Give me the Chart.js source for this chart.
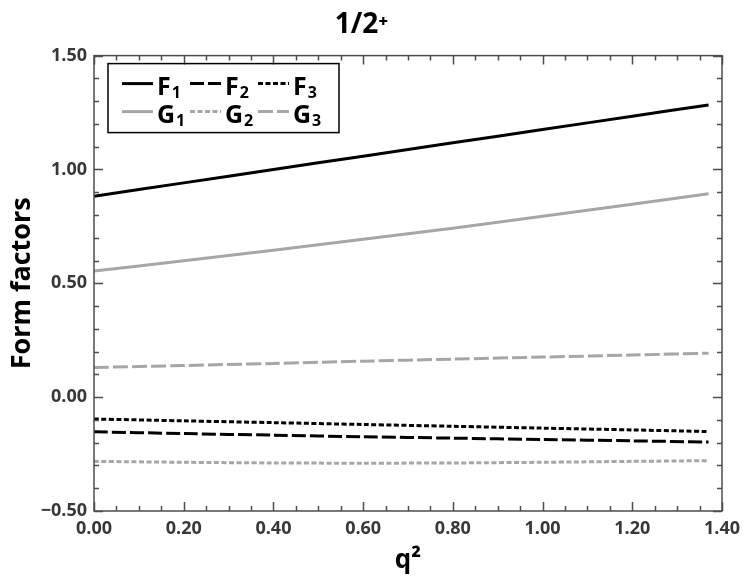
<!DOCTYPE html>
<html>
<head>
<meta charset="utf-8">
<script src="https://cdn.jsdelivr.net/npm/chart.js@4.4.1/dist/chart.umd.min.js"></script>
<style>
  html, body { margin: 0; padding: 0; background: #fff; }
</style>
</head>
<body>
<canvas id="chart" width="747" height="588"></canvas>
<script>
// q^2 sample points and form factor values
const q2 = [0, 0.2, 0.4, 0.6, 0.8, 1.0, 1.2, 1.37];
const F1 = [0.882, 0.941, 1.000, 1.058, 1.117, 1.175, 1.234, 1.283];
const F2 = [-0.152, -0.160, -0.167, -0.174, -0.180, -0.186, -0.192, -0.197];
const F3 = [-0.096, -0.104, -0.112, -0.120, -0.128, -0.136, -0.144, -0.151];
const G1 = [0.554, 0.599, 0.645, 0.693, 0.742, 0.794, 0.847, 0.893];
const G2 = [-0.282, -0.286, -0.289, -0.290, -0.289, -0.286, -0.282, -0.279];
const G3 = [0.130, 0.139, 0.148, 0.158, 0.167, 0.176, 0.185, 0.193];

const seriesNames = [['F', '1'], ['F', '2'], ['F', '3'], ['G', '1'], ['G', '2'], ['G', '3']];
const seriesData = [F1, F2, F3, G1, G2, G3];

const xMin = 0, xMax = 1.4, xStep = 0.2, xMinor = 0.05;
const yMin = -0.5, yMax = 1.5, yStep = 0.5, yMinor = 0.1;

const BLACK = '#000000';
const GREY = '#a6a6a6';
const AXIS = '#4d4d4d';
const FONT = "'Open Sans', 'DejaVu Sans', sans-serif";

const styles = [
    { color: BLACK, dash: [] },
    { color: BLACK, dash: [14, 4] },
    { color: BLACK, dash: [5, 2.5] },
    { color: GREY, dash: [] },
    { color: GREY, dash: [5, 2.5] },
    { color: GREY, dash: [15, 4] }
];

const datasets = seriesData.map((vals, i) => ({
    label: seriesNames[i].join(''),
    data: q2.map((q, k) => ({ x: q, y: vals[k] })),
    borderColor: styles[i].color,
    borderDash: styles[i].dash,
    borderWidth: 3,
    pointRadius: 0,
    fill: false,
    tension: 0.3
}));

// frame with inward major/minor ticks on all four sides
const frameTicks = {
    id: 'frameTicks',
    afterDraw(chart) {
        const { ctx, chartArea: { left, right, top, bottom }, scales: { x, y } } = chart;
        ctx.save();
        ctx.strokeStyle = AXIS;
        ctx.lineWidth = 1.5;
        ctx.strokeRect(left, top, right - left, bottom - top);
        ctx.beginPath();
        const nx = Math.round((xMax - xMin) / xMinor);
        for (let i = 0; i <= nx; i++) {
            const px = Math.round(x.getPixelForValue(xMin + i * xMinor)) + 0.5;
            const len = i % Math.round(xStep / xMinor) === 0 ? 9 : 5;
            ctx.moveTo(px, bottom); ctx.lineTo(px, bottom - len);
            ctx.moveTo(px, top); ctx.lineTo(px, top + len);
        }
        const ny = Math.round((yMax - yMin) / yMinor);
        for (let i = 0; i <= ny; i++) {
            const py = Math.round(y.getPixelForValue(yMin + i * yMinor)) + 0.5;
            const len = i % Math.round(yStep / yMinor) === 0 ? 9 : 5;
            ctx.moveTo(left, py); ctx.lineTo(left + len, py);
            ctx.moveTo(right, py); ctx.lineTo(right - len, py);
        }
        ctx.stroke();
        ctx.restore();
    }
};

// boxed legend, 3 columns x 2 rows, with subscript labels
const boxLegend = {
    id: 'boxLegend',
    afterDraw(chart) {
        const { ctx, chartArea: { left, top } } = chart;
        const bx = left + 14, by = top + 8, bw = 231, bh = 69;
        ctx.save();
        ctx.strokeStyle = BLACK;
        ctx.lineWidth = 1.5;
        ctx.strokeRect(bx, by, bw, bh);
        chart.data.datasets.forEach((ds, i) => {
            const col = i % 3, row = Math.floor(i / 3);
            const x0 = bx + 14 + col * 68;
            const yc = by + 20 + row * 28;
            const lineLen = 31;
            ctx.beginPath();
            ctx.strokeStyle = ds.borderColor;
            ctx.lineWidth = ds.borderWidth;
            ctx.setLineDash(ds.borderDash);
            ctx.moveTo(x0, yc);
            ctx.lineTo(x0 + lineLen, yc);
            ctx.stroke();
            ctx.setLineDash([]);
            const [main, sub] = seriesNames[i];
            ctx.fillStyle = BLACK;
            ctx.textBaseline = 'alphabetic';
            ctx.font = 'bold 25px ' + FONT;
            const tx = x0 + lineLen + 4;
            ctx.fillText(main, tx, yc + 11);
            const w = ctx.measureText(main).width;
            ctx.font = 'bold 16px ' + FONT;
            ctx.fillText(sub, tx + w + 1, yc + 14);
        });
        ctx.restore();
    }
};

const fmtY = v => (v < 0 ? '\u2212' : '') + Math.abs(v).toFixed(2);

new Chart(document.getElementById('chart'), {
    type: 'line',
    data: { datasets },
    options: {
        responsive: false,
        animation: false,
        devicePixelRatio: 1,
        layout: { padding: { left: 0, right: 24, top: 0, bottom: 0 } },
        plugins: {
            legend: { display: false },
            tooltip: { enabled: false },
            title: {
                display: true,
                text: '1/2\u207A',
                color: BLACK,
                font: { family: FONT, size: 28, weight: 'bold' },
                padding: { top: 8, bottom: 14 }
            }
        },
        scales: {
            x: {
                type: 'linear',
                min: xMin,
                max: xMax,
                grid: { display: false, drawTicks: false },
                border: { display: false },
                ticks: {
                    stepSize: xStep,
                    callback: v => v.toFixed(2),
                    color: '#383838',
                    font: { family: FONT, size: 18, weight: 'bold' },
                    padding: 7,
                    maxRotation: 0
                },
                title: {
                    display: true,
                    text: 'q\u00B2',
                    color: BLACK,
                    font: { family: FONT, size: 26, weight: 'bold' },
                    padding: { top: 0, bottom: 12 }
                },
                afterFit: scale => { scale.height = 77; }
            },
            y: {
                min: yMin,
                max: yMax,
                grid: { display: false, drawTicks: false },
                border: { display: false },
                ticks: {
                    stepSize: yStep,
                    callback: fmtY,
                    color: '#383838',
                    font: { family: FONT, size: 18, weight: 'bold' },
                    padding: 7
                },
                title: {
                    display: true,
                    text: 'Form factors',
                    color: BLACK,
                    font: { family: FONT, size: 27, weight: 'bold' },
                    padding: { top: 6, bottom: 0 }
                },
                afterFit: scale => { scale.width = 94; }
            }
        }
    },
    plugins: [frameTicks, boxLegend]
});
</script>
</body>
</html>
